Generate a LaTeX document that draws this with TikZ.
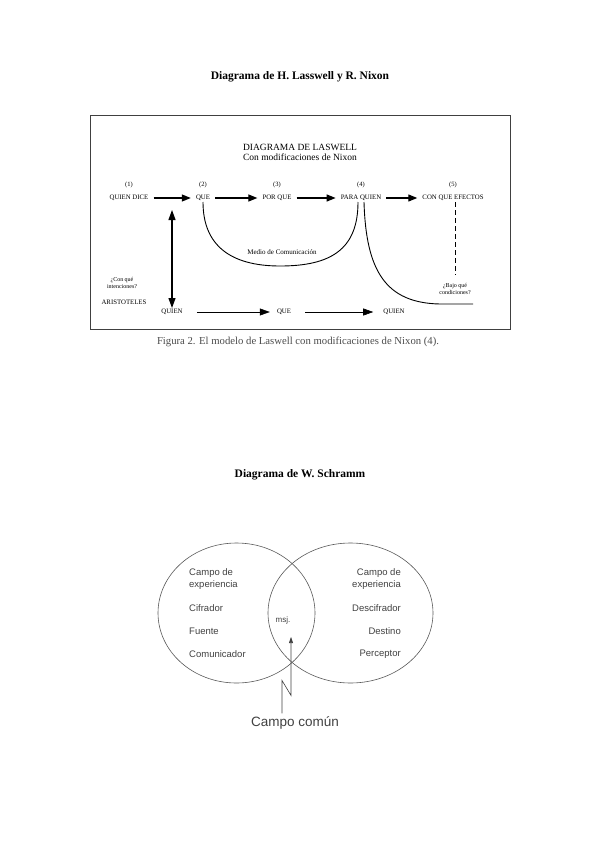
\documentclass[tikz,border=0pt]{standalone}
\usepackage{fontspec}
\setmainfont{Liberation Serif}
\newfontfamily\arialfont{Liberation Sans}
\usepackage{tikz}
\usetikzlibrary{shapes,arrows.meta,positioning,calc}

\begin{document}
\begin{tikzpicture}[
    x=1pt, y=-1pt,
    title/.style={font=\bfseries\fontsize{11.5}{13}\selectfont, inner sep=1pt},
    head/.style={font=\fontsize{9.5}{10}\selectfont, align=center, inner sep=1pt},
    lbl/.style={font=\fontsize{6.8}{8}\selectfont, inner sep=1pt},
    num/.style={font=\fontsize{6.5}{8}\selectfont, inner sep=1pt},
    note/.style={font=\fontsize{6}{7}\selectfont, align=center, inner sep=1pt},
    frame/.style={rectangle, draw=black!75, line width=1pt, minimum width=420pt, minimum height=213pt},
    arrow/.style={-{Triangle[length=9pt, width=7pt]}, line width=1.2pt, shorten <=4pt, shorten >=4pt},
    dblarrow/.style={{Triangle[length=10pt, width=7pt]}-{Triangle[length=10pt, width=7pt]}, line width=1.1pt},
    lowarrow/.style={-{Triangle[length=10pt, width=7pt]}, line width=0.6pt},
    curve/.style={line width=0.9pt},
    dashline/.style={line width=0.7pt, dash pattern=on 5pt off 3pt},
    circ/.style={ellipse, draw=black!65, line width=0.6pt, inner sep=0pt},
    sch/.style={font=\arialfont\fontsize{9.5}{12}\selectfont, text=black!75, inner sep=0pt},
    sarrow/.style={-{Triangle[length=6pt, width=4pt]}, line width=0.6pt, draw=black!75}
]
    \useasboundingbox (0,0) rectangle (600,848);

    % Lasswell
    \node [title] (t1) at (300,77) {Diagrama de H. Lasswell y R. Nixon};
    \node [frame] (marco) at (300,222.5) {};
    \node [head] (hdr) at (300,152) {DIAGRAMA DE LASWELL\\Con modificaciones de Nixon};

    \node [lbl] (qd) at (129,198) {QUIEN DICE};
    \node [lbl] (que) at (203,198) {QUE};
    \node [lbl] (pq) at (277,198) {POR QUE};
    \node [lbl] (para) at (361,198) {PARA QUIEN};
    \node [lbl] (efe) at (453,198) {CON QUE EFECTOS};

    \node [num, above=5pt of qd] (n1) {(1)};
    \node [num, above=5pt of que] (n2) {(2)};
    \node [num, above=5pt of pq] (n3) {(3)};
    \node [num, above=5pt of para] (n4) {(4)};
    \node [num, above=5pt of efe] (n5) {(5)};

    \draw [arrow] (qd) -- (que);
    \draw [arrow] (que) -- (pq);
    \draw [arrow] (pq) -- (para);
    \draw [arrow] (para) -- (efe);

    \node [font=\fontsize{7}{8}\selectfont] (medio) at (282,252) {Medio de Comunicación};
    \draw [curve] (que.south) .. controls (203,245) and (230,266) .. (280,266)
        .. controls (330,266) and (358,250) .. ([xshift=-3pt]para.south);
    \coordinate (cf) at (473,304);
    \draw [curve] ([xshift=3pt]para.south) .. controls (366,270) and (385,303) .. (440,304) -- (cf);

    \node [note] (bajo) at (455,289) {¿Bajo qué\\condiciones?};
    \draw [dashline] (efe.south -| bajo.north) -- ([yshift=7pt]bajo.north);

    \node [note] (conq) at (122,283) {¿Con qué\\intenciones?};
    \node [lbl] (ari) at (124,302) {ARISTOTELES};

    \node [lbl] (q1) at (172,312) {QUIEN};
    \node [lbl] (q2) at (284,312) {QUE};
    \node [lbl] (q3) at (394,312) {QUIEN};
    \coordinate (va) at (172,210);
    \draw [dblarrow] (va) -- (q1.north);
    \draw [lowarrow, shorten <=13pt, shorten >=6pt] (q1) -- (q2);
    \draw [lowarrow, shorten <=13pt, shorten >=9pt] (q2) -- (q3);

    \node [font=\fontsize{10.7}{12}\selectfont, text=black!70] (cap) at (298,342)
        {Figura 2. El modelo de Laswell con modificaciones de Nixon (4).};

    % Schramm
    \node [title] (t2) at (300,475) {Diagrama de W. Schramm};
    \node [circ, minimum width=157pt, minimum height=140pt] (izq) at (236.5,613) {};
    \node [circ, minimum width=165pt, minimum height=140pt] (der) at (350.5,613) {};

    \node [sch, anchor=west, align=left] (ce1) at (189,579) {Campo de\\experiencia};
    \node [sch, anchor=west] (cif) at (189,608) {Cifrador};
    \node [sch, anchor=west] (fue) at (189,631) {Fuente};
    \node [sch, anchor=west] (com) at (189,654) {Comunicador};

    \node [sch, anchor=east, align=right] (ce2) at (401,579) {Campo de\\experiencia};
    \node [sch, anchor=east] (des) at (401,608) {Descifrador};
    \node [sch, anchor=east] (dst) at (401,631) {Destino};
    \node [sch, anchor=east] (per) at (401,654) {Perceptor};

    \node [sch, font=\arialfont\fontsize{8}{9}\selectfont] (msj) at (283,620) {msj.};
    \node [sch, font=\arialfont\fontsize{13.5}{15}\selectfont] (comun) at (295,723) {Campo común};
    \coordinate (tip) at (291,637);
    \draw [sarrow] ([xshift=-13pt, yshift=3pt]comun.north) -- ++(0,-33) -- ++(9,15) -- (tip);
\end{tikzpicture}
\end{document}
